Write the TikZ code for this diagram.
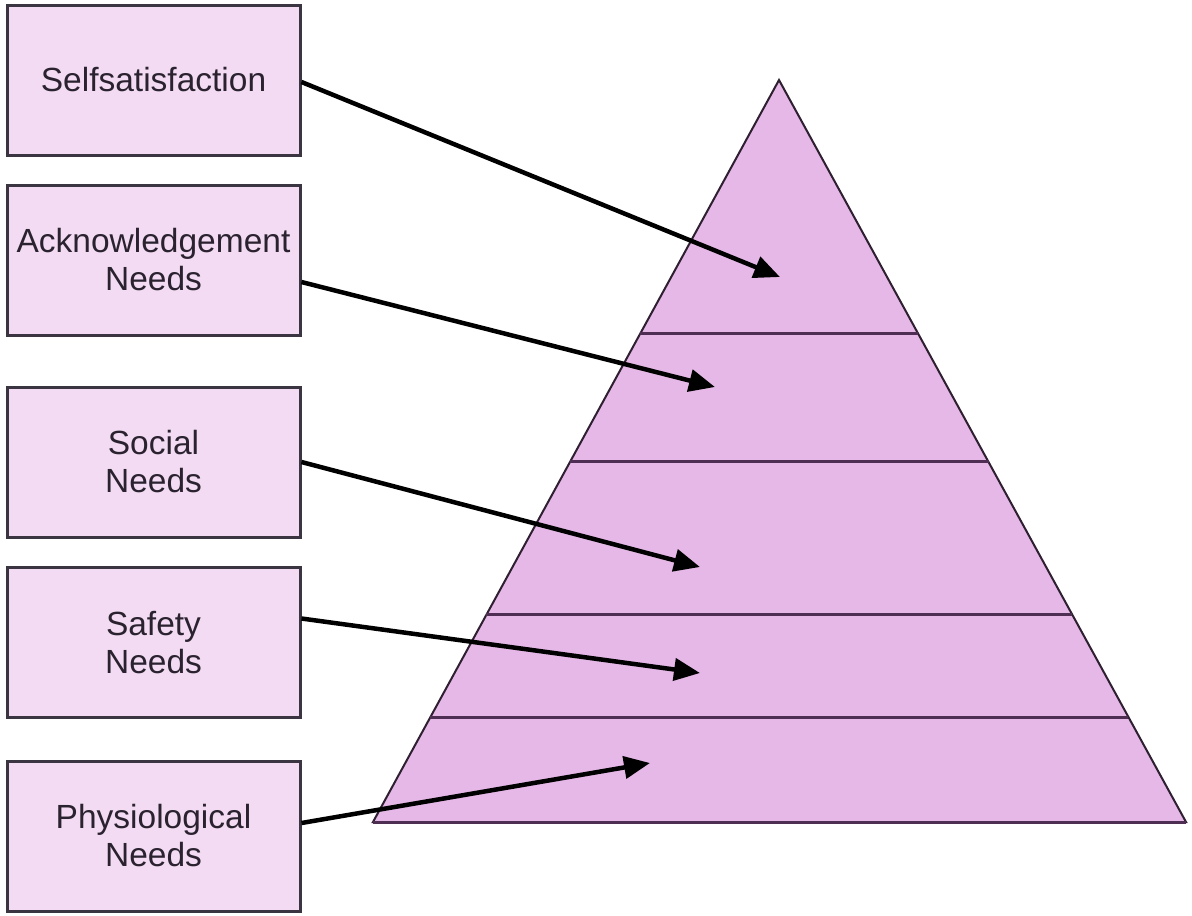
\documentclass[tikz,border=0pt]{standalone}
\usepackage{fontspec}
\setmainfont{Liberation Sans}
\usetikzlibrary{arrows.meta,calc}

\definecolor{boxfill}{HTML}{F3DCF3}
\definecolor{boxline}{HTML}{3A3540}
\definecolor{pyrfill}{HTML}{E6B8E8}
\definecolor{pyrline}{HTML}{2E2030}
\definecolor{layerline}{HTML}{4E2E52}
\definecolor{labeltext}{HTML}{2B2230}

\tikzset{
  needbox/.style={draw=boxline, line width=3pt, fill=boxfill,
    minimum width=293pt, minimum height=150pt, inner sep=0pt,
    align=center, text=labeltext,
    font=\fontsize{33.5}{38}\selectfont},
  pointer/.style={draw=black, line width=4.5pt,
    -{Triangle[length=26pt,width=22pt]}},
  layer/.style={draw=layerline, line width=3pt},
}

\begin{document}
\begin{tikzpicture}[x=1pt,y=-1pt]
  \useasboundingbox (0,0) rectangle (1192,916);

  % pyramid outline
  \coordinate (apex) at (779,80);
  \coordinate (bl) at (373,822);
  \coordinate (br) at (1186,822);
  \filldraw[fill=pyrfill, draw=pyrline, line width=2pt, line join=miter]
    (apex) -- (br) -- (bl) -- cycle;

  % dividing lines between the levels
  \foreach \t in {0.3423,0.5148,0.7210,0.8585}
    \draw[layer] ($(apex)!\t!(bl)$) -- ($(apex)!\t!(br)$);
  \draw[draw=layerline, line width=3pt] (bl) -- (br);

  % level labels
  \node[needbox] (self)   at (153.5,80)    {Selfsatisfaction};
  \node[needbox] (ack)    at (153.5,260)   {Acknowledgement\\Needs};
  \node[needbox] (social) at (153.5,462)   {Social\\Needs};
  \node[needbox] (safety) at (153.5,642.5) {Safety\\Needs};
  \node[needbox] (phys)   at (153.5,836)   {Physiological\\Needs};

  % arrow targets inside the pyramid
  \coordinate (tself)   at (780,277);
  \coordinate (tack)    at (715,387);
  \coordinate (tsocial) at (700,567);
  \coordinate (tsafety) at (700,673);
  \coordinate (tphys)   at (650,763);

  \draw[pointer] ([yshift=-2pt]self.east) -- (tself);
  \draw[pointer] ([yshift=-22pt]ack.east) -- (tack);
  \draw[pointer] (social.east) -- (tsocial);
  \draw[pointer] ([yshift=24pt]safety.east) -- (tsafety);
  \draw[pointer] ([yshift=13pt]phys.east) -- (tphys);
\end{tikzpicture}
\end{document}
